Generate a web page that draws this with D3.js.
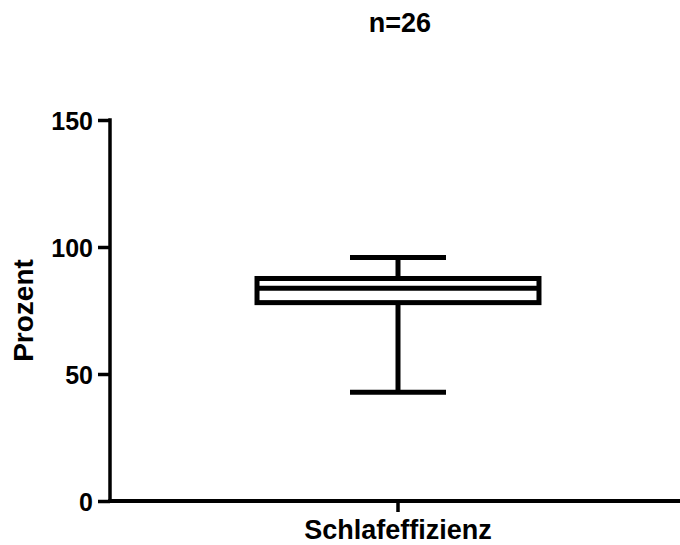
<!DOCTYPE html>
<html>
<head>
<meta charset="utf-8">
<script src="https://cdn.jsdelivr.net/npm/d3@7"></script>
<style>
  html, body { margin: 0; padding: 0; background: #fff; }
  svg text { font-family: "Liberation Sans", Arial, Helvetica, sans-serif; font-weight: bold; fill: #000; }
</style>
</head>
<body>
<svg id="chart" width="680" height="545"></svg>
<script>
// Sleep efficiency summary (percent), n = 26
const categories = ["Schlafeffizienz"];
const whiskerMin = [42.8];
const quartile1 = [78.1];
const medians = [83.8];
const quartile3 = [87.6];
const whiskerMax = [95.9];
const yTicks = [0, 50, 100, 150];
const titleText = "n=26";
const yLabel = "Prozent";

const boxes = categories.map((c, i) => ({
  name: c, min: whiskerMin[i], q1: quartile1[i], median: medians[i], q3: quartile3[i], max: whiskerMax[i]
}));

const svg = d3.select("#chart");
const axisLeftX = 110, axisBottomY = 501, axisTopY = 120, rightEdge = 686;

const y = d3.scaleLinear().domain([0, 150]).range([axisBottomY, axisTopY]);
const x = d3.scaleBand().domain(categories).range([axisLeftX, rightEdge]).padding(0.3427);

// y axis
const yAxis = svg.append("g")
  .attr("transform", `translate(${axisLeftX},0)`)
  .call(d3.axisLeft(y).tickValues(yTicks).tickSize(12).tickPadding(5).tickFormat(d3.format("d")));
yAxis.select(".domain").attr("d", `M0,${axisTopY - 1.75}V${axisBottomY}`).attr("stroke", "#000").attr("stroke-width", 3.5);
yAxis.selectAll(".tick line").attr("stroke", "#000").attr("stroke-width", 3.5);
yAxis.selectAll(".tick text").attr("font-size", 25).attr("dy", "0.36em");

// x axis
const xAxis = svg.append("g")
  .attr("transform", `translate(0,${axisBottomY})`)
  .call(d3.axisBottom(x).tickSize(11).tickFormat(""));
xAxis.select(".domain").attr("d", `M${axisLeftX - 1.75},0H680`).attr("stroke", "#000").attr("stroke-width", 4);
xAxis.selectAll(".tick line").attr("stroke", "#000").attr("stroke-width", 3.5);

svg.append("text")
  .attr("x", x(categories[0]) + x.bandwidth() / 2)
  .attr("y", 539)
  .attr("text-anchor", "middle")
  .attr("font-size", 27)
  .text(categories[0]);

// y label
svg.append("text")
  .attr("transform", `translate(33,${(axisTopY + axisBottomY) / 2}) rotate(-90)`)
  .attr("text-anchor", "middle")
  .attr("font-size", 28)
  .text(yLabel);

// title
svg.append("text")
  .attr("x", 400)
  .attr("y", 32)
  .attr("text-anchor", "middle")
  .attr("font-size", 27)
  .text(titleText);

// box and whiskers
const sw = 5;
const capW = 96;
const g = svg.append("g").attr("fill", "none").attr("stroke", "#000").attr("stroke-width", sw);
boxes.forEach(b => {
  const cx = x(b.name) + x.bandwidth() / 2;
  const left = x(b.name), right = x(b.name) + x.bandwidth();
  // whiskers
  g.append("line").attr("x1", cx).attr("x2", cx).attr("y1", y(b.q3)).attr("y2", y(b.max));
  g.append("line").attr("x1", cx).attr("x2", cx).attr("y1", y(b.q1)).attr("y2", y(b.min));
  g.append("line").attr("x1", cx - capW / 2).attr("x2", cx + capW / 2).attr("y1", y(b.max)).attr("y2", y(b.max));
  g.append("line").attr("x1", cx - capW / 2).attr("x2", cx + capW / 2).attr("y1", y(b.min)).attr("y2", y(b.min));
  // box
  g.append("rect").attr("x", left).attr("y", y(b.q3))
    .attr("width", right - left).attr("height", y(b.q1) - y(b.q3));
  // median
  g.append("line").attr("x1", left).attr("x2", right).attr("y1", y(b.median)).attr("y2", y(b.median));
});
</script>
</body>
</html>
